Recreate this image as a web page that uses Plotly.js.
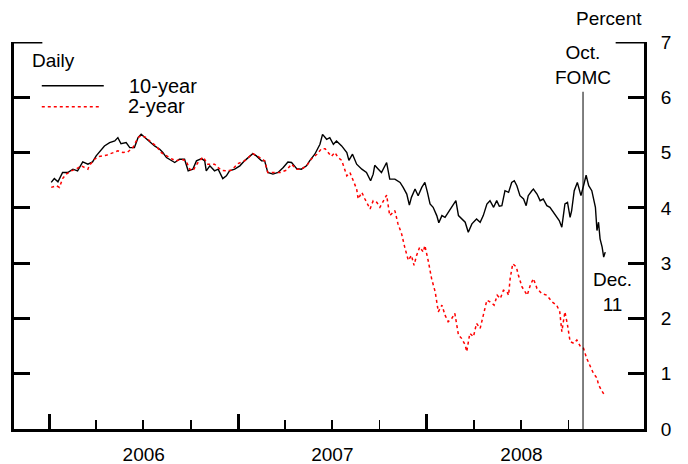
<!DOCTYPE html>
<html>
<head>
<meta charset="utf-8">
<script src="https://cdn.plot.ly/plotly-3.0.1.min.js"></script>
<style>html,body{margin:0;padding:0;background:#fff;}#chart{width:688px;height:464px;}</style>
</head>
<body>
<div id="chart"></div>
<script>
const dates10 = ['2006-01-04','2006-01-10','2006-01-17','2006-01-26','2006-02-05','2006-02-15','2006-02-24','2006-03-06','2006-03-16','2006-03-25','2006-04-01','2006-04-07','2006-04-17','2006-04-27','2006-05-07','2006-05-13','2006-05-19','2006-05-29','2006-06-05','2006-06-14','2006-06-21','2006-06-27','2006-07-04','2006-07-13','2006-07-23','2006-08-02','2006-08-08','2006-08-15','2006-08-21','2006-08-31','2006-09-09','2006-09-19','2006-09-26','2006-10-05','2006-10-12','2006-10-22','2006-10-28','2006-10-31','2006-11-07','2006-11-16','2006-11-23','2006-12-02','2006-12-09','2006-12-15','2006-12-25','2007-01-04','2007-01-13','2007-01-23','2007-01-29','2007-02-05','2007-02-15','2007-02-21','2007-02-27','2007-03-09','2007-03-19','2007-03-29','2007-04-07','2007-04-14','2007-04-24','2007-05-03','2007-05-13','2007-05-19','2007-05-29','2007-06-08','2007-06-13','2007-06-21','2007-06-27','2007-07-04','2007-07-10','2007-07-20','2007-07-30','2007-08-03','2007-08-10','2007-08-18','2007-08-28','2007-09-06','2007-09-14','2007-09-19','2007-09-22','2007-09-29','2007-10-05','2007-10-15','2007-10-21','2007-10-31','2007-11-10','2007-11-16','2007-11-23','2007-11-28','2007-12-02','2007-12-09','2007-12-15','2007-12-22','2007-12-28','2008-01-02','2008-01-07','2008-01-13','2008-01-20','2008-01-24','2008-01-30','2008-02-05','2008-02-13','2008-02-21','2008-02-26','2008-03-02','2008-03-08','2008-03-15','2008-03-21','2008-03-28','2008-04-06','2008-04-13','2008-04-19','2008-04-26','2008-05-02','2008-05-09','2008-05-15','2008-05-20','2008-05-25','2008-05-31','2008-06-07','2008-06-13','2008-06-18','2008-06-23','2008-06-29','2008-07-06','2008-07-11','2008-07-15','2008-07-22','2008-07-25','2008-08-01','2008-08-07','2008-08-13','2008-08-20','2008-08-26','2008-09-02','2008-09-08','2008-09-13','2008-09-18','2008-09-24','2008-09-29','2008-10-04','2008-10-07','2008-10-12','2008-10-18','2008-10-25','2008-10-30','2008-11-04','2008-11-09','2008-11-15','2008-11-22','2008-11-25','2008-11-28','2008-12-01','2008-12-05','2008-12-08','2008-12-11'];
const yield10 = [4.46,4.53,4.47,4.64,4.64,4.70,4.67,4.83,4.79,4.83,4.94,5.00,5.12,5.18,5.21,5.27,5.16,5.18,5.09,5.09,5.27,5.33,5.27,5.21,5.12,5.06,5.00,4.91,4.88,4.82,4.88,4.88,4.67,4.70,4.85,4.89,4.85,4.67,4.76,4.67,4.70,4.53,4.58,4.67,4.70,4.76,4.85,4.94,4.98,4.94,4.85,4.85,4.64,4.61,4.64,4.73,4.83,4.82,4.71,4.70,4.76,4.85,4.97,5.15,5.33,5.24,5.27,5.15,5.21,5.12,5.00,4.86,4.97,4.79,4.70,4.64,4.49,4.61,4.77,4.70,4.64,4.82,4.52,4.52,4.46,4.37,4.25,4.05,4.19,4.34,4.22,4.37,4.46,4.28,4.07,4.01,3.86,3.73,3.86,3.83,3.95,4.07,4.13,3.86,3.80,3.74,3.56,3.71,3.80,3.74,3.86,4.07,4.13,4.01,4.13,4.03,4.04,4.31,4.28,4.46,4.49,4.40,4.22,4.16,4.04,4.22,4.31,4.34,4.25,4.13,4.16,4.04,4.01,3.92,3.83,3.77,3.65,4.07,4.10,3.83,3.95,4.31,4.46,4.22,4.40,4.59,4.40,4.31,4.01,3.59,3.74,3.44,3.29,3.11,3.20];

const dates2 = ['2006-01-04','2006-01-14','2006-01-20','2006-01-26','2006-02-02','2006-02-12','2006-02-21','2006-03-03','2006-03-16','2006-03-19','2006-03-29','2006-04-07','2006-04-20','2006-04-30','2006-05-13','2006-05-23','2006-06-01','2006-06-11','2006-06-21','2006-06-27','2006-07-07','2006-07-17','2006-07-26','2006-08-05','2006-08-15','2006-08-24','2006-09-03','2006-09-13','2006-09-22','2006-09-29','2006-10-05','2006-10-15','2006-10-25','2006-11-03','2006-11-16','2006-11-29','2006-12-09','2006-12-19','2006-12-31','2007-01-13','2007-01-23','2007-01-29','2007-02-08','2007-02-21','2007-02-27','2007-03-13','2007-03-23','2007-04-04','2007-04-14','2007-04-24','2007-05-03','2007-05-13','2007-05-23','2007-06-02','2007-06-11','2007-06-18','2007-06-24','2007-06-30','2007-07-07','2007-07-13','2007-07-20','2007-07-25','2007-07-30','2007-08-05','2007-08-11','2007-08-18','2007-08-21','2007-08-28','2007-09-03','2007-09-13','2007-09-19','2007-09-26','2007-10-02','2007-10-08','2007-10-15','2007-10-21','2007-10-31','2007-11-06','2007-11-13','2007-11-19','2007-11-26','2007-12-02','2007-12-07','2007-12-12','2007-12-18','2007-12-25','2007-12-28','2008-01-04','2008-01-10','2008-01-17','2008-01-23','2008-01-30','2008-02-05','2008-02-11','2008-02-18','2008-02-24','2008-03-02','2008-03-08','2008-03-15','2008-03-18','2008-03-24','2008-03-31','2008-04-06','2008-04-13','2008-04-19','2008-04-26','2008-05-02','2008-05-10','2008-05-16','2008-05-22','2008-05-28','2008-06-04','2008-06-07','2008-06-10','2008-06-15','2008-06-22','2008-06-26','2008-07-03','2008-07-09','2008-07-13','2008-07-19','2008-07-25','2008-08-01','2008-08-10','2008-08-20','2008-08-30','2008-09-08','2008-09-14','2008-09-18','2008-09-24','2008-09-29','2008-10-04','2008-10-11','2008-10-17','2008-10-24','2008-10-30','2008-11-05','2008-11-12','2008-11-18','2008-11-25','2008-11-28','2008-12-05','2008-12-11'];
const yield2 = [4.37,4.40,4.37,4.53,4.61,4.67,4.70,4.76,4.70,4.77,4.88,4.93,4.95,4.98,5.03,5.00,5.01,5.09,5.27,5.31,5.27,5.18,5.12,5.00,4.94,4.89,4.85,4.88,4.85,4.70,4.67,4.82,4.92,4.79,4.79,4.68,4.67,4.68,4.80,4.85,4.93,4.98,4.93,4.85,4.64,4.64,4.64,4.68,4.79,4.70,4.70,4.76,4.89,4.97,5.07,5.07,5.00,4.93,5.00,4.91,4.86,4.73,4.58,4.64,4.49,4.34,4.16,4.28,4.16,3.98,4.13,4.10,4.01,4.10,4.23,3.86,3.95,3.71,3.53,3.29,3.05,3.14,2.96,3.14,3.29,3.20,3.32,3.02,2.72,2.48,2.12,2.24,2.06,1.94,2.00,2.09,1.70,1.64,1.52,1.40,1.73,1.67,1.91,1.82,2.06,2.33,2.30,2.24,2.42,2.36,2.51,2.48,2.42,2.72,2.99,2.93,2.78,2.57,2.48,2.42,2.60,2.72,2.54,2.45,2.42,2.30,2.24,2.12,1.76,2.12,1.88,1.58,1.55,1.61,1.49,1.46,1.28,1.13,1.01,0.92,0.80,0.68,0.59];

const seriesNames = ['10-year', '2-year'];
const yearTicks = ['2006-01-01', '2007-01-01', '2008-01-01'];
const yearLabelPos = ['2006-07-02', '2007-07-02', '2008-07-02'];
const yearLabels = ['2006', '2007', '2008'];
const quarterTicks = ['2006-04-01','2006-07-01','2006-10-01','2007-04-01','2007-07-01','2007-10-01','2008-04-01','2008-07-01','2008-10-01'];
const xRange = ['2005-10-24', '2009-02-24'];
const fomcDate = '2008-10-29';

const FONT = 'Liberation Sans, Arial, Helvetica, sans-serif';

const traces = [
  {x: dates10, y: yield10, name: seriesNames[0], type: 'scatter', mode: 'lines',
   line: {color: '#000000', width: 1.4}, xaxis: 'x', yaxis: 'y', hoverinfo: 'skip'},
  {x: dates2, y: yield2, name: seriesNames[1], type: 'scatter', mode: 'lines',
   line: {color: '#ff0000', width: 1.5, dash: '3px,3px'}, xaxis: 'x2', yaxis: 'y', hoverinfo: 'skip'}
];

const layout = {
  width: 688, height: 464,
  margin: {l: 14, r: 43.5, t: 42, b: 34.5},
  paper_bgcolor: '#ffffff', plot_bgcolor: '#ffffff',
  font: {family: FONT, size: 19, color: '#000000'},
  showlegend: false,
  xaxis: {
    type: 'date', range: xRange,
    tickmode: 'array', tickvals: yearLabelPos, ticktext: yearLabels,
    ticks: '', showline: true, linewidth: 3, linecolor: '#000',
    showgrid: false, zeroline: false, ticklabelstandoff: 6,
    tickfont: {size: 19, family: FONT, color: '#000'},
    minor: {tickmode: 'array', tickvals: quarterTicks, ticks: 'inside', ticklen: 9, tickwidth: 1.5, tickcolor: '#000', showgrid: false}
  },
  xaxis2: {
    type: 'date', range: xRange, overlaying: 'x', matches: 'x', anchor: 'y', side: 'bottom',
    tickmode: 'array', tickvals: yearTicks, showticklabels: false,
    ticks: 'inside', ticklen: 15, tickwidth: 3, tickcolor: '#000',
    showline: false, showgrid: false, zeroline: false
  },
  yaxis: {
    range: [0, 7], side: 'right', tickmode: 'linear', tick0: 0, dtick: 1,
    ticks: 'inside', ticklen: 16, tickwidth: 3, tickcolor: '#000',
    showline: true, linewidth: 3, linecolor: '#000', mirror: 'ticks',
    showgrid: false, zeroline: false, ticklabelstandoff: 10,
    tickfont: {size: 19, family: FONT, color: '#000'}
  },
  shapes: [
    {type: 'line', xref: 'paper', yref: 'y', x0: 0, x1: 0.045, y0: 7, y1: 7, line: {color: '#000', width: 3}},
    {type: 'line', xref: 'paper', yref: 'y', x0: 0.955, x1: 1, y0: 7, y1: 7, line: {color: '#000', width: 3}},
    {type: 'line', xref: 'x', yref: 'y', x0: fomcDate, x1: fomcDate, y0: 0, y1: 6.1, line: {color: '#000', width: 1}},
    {type: 'line', xref: 'paper', yref: 'paper', x0: 0.0441, x1: 0.1425, y0: 0.887, y1: 0.887, line: {color: '#000', width: 1.4}},
    {type: 'line', xref: 'paper', yref: 'paper', x0: 0.0441, x1: 0.1393, y0: 0.833, y1: 0.833, line: {color: '#ff0000', width: 1.5, dash: '3px,3px'}}
  ],
  annotations: [
    {text: 'Percent', xref: 'paper', yref: 'paper', x: 1, y: 1.062, xanchor: 'right', yanchor: 'middle', showarrow: false, font: {size: 19}},
    {text: 'Oct.<br>FOMC', xref: 'x', yref: 'y', x: fomcDate, y: 6.58, xanchor: 'center', yanchor: 'middle', showarrow: false, font: {size: 19}},
    {text: 'Dec.<br>11', xref: 'paper', yref: 'y', x: 0.95, y: 2.48, xanchor: 'center', yanchor: 'middle', showarrow: false, font: {size: 19}},
    {text: 'Daily', xref: 'paper', yref: 'paper', x: 0.0251, y: 0.951, xanchor: 'left', yanchor: 'middle', showarrow: false, font: {size: 19}},
    {text: seriesNames[0], xref: 'paper', yref: 'paper', x: 0.179, y: 0.8865, xanchor: 'left', yanchor: 'middle', showarrow: false, font: {size: 20}},
    {text: seriesNames[1], xref: 'paper', yref: 'paper', x: 0.1773, y: 0.8348, xanchor: 'left', yanchor: 'middle', showarrow: false, font: {size: 20}}
  ]
};

Plotly.newPlot('chart', traces, layout, {staticPlot: true, displayModeBar: false});
</script>
</body>
</html>
